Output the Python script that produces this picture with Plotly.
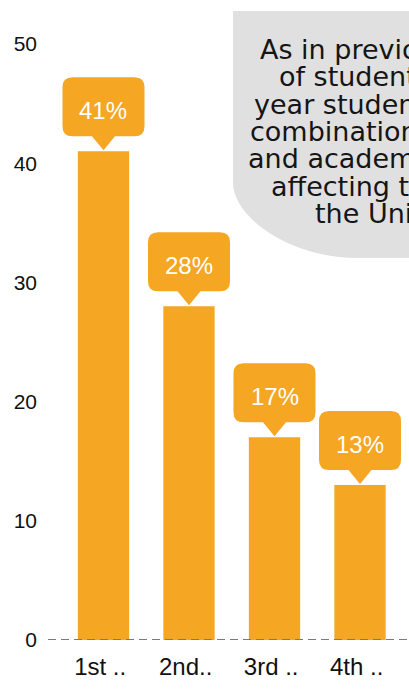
import plotly.graph_objects as go

# ---- data ----
categories = ["1st ..", "2nd..", "3rd ..", "4th .."]
values = [41, 28, 17, 13]
y_ticks = [0, 10, 20, 30, 40, 50]
note_lines = [
    "As in previous years, the majority",
    "of students who left were first",
    "year students, citing a",
    "combination of personal, financial",
    "and academic reasons as",
    "affecting their studies at",
    "the University.",
]

# ---- style ----
ORANGE = "#F5A623"
GREY = "#E0E0E0"
W, H = 409, 689
ML, MR, MT, MB = 48, 0, 44, 49
PW = W - ML - MR
PH = H - MT - MB


def px_x(px):
    return (px - ML) / PW


def px_y(py):
    return (H - MB - py) / PH


fig = go.Figure()
fig.add_trace(go.Bar(
    x=list(range(len(categories))), y=values,
    marker=dict(color=ORANGE, line=dict(width=0)),
    width=0.6, hoverinfo="skip",
))

shapes = []
annotations = []

# callout boxes above bars
r = 10
hw, yb, yt, th = 41, 15, 74, 11.5
callout = (
    f"M {-hw + r},{yt} L {hw - r},{yt} Q {hw},{yt} {hw},{yt - r} "
    f"L {hw},{yb + r} Q {hw},{yb} {hw - r},{yb} L {th},{yb} L 0,1 L {-th},{yb} "
    f"L {-hw + r},{yb} Q {-hw},{yb} {-hw},{yb + r} L {-hw},{yt - r} "
    f"Q {-hw},{yt} {-hw + r},{yt} Z"
)
for i, v in enumerate(values):
    shapes.append(dict(
        type="path", xref="x", yref="y", xsizemode="pixel", ysizemode="pixel",
        xanchor=i, yanchor=v, path=callout,
        fillcolor=ORANGE, line=dict(width=0), layer="above",
    ))
    annotations.append(dict(
        x=i, y=v, xref="x", yref="y", text=f"{v}%", showarrow=False,
        yanchor="middle", xanchor="center", yshift=41,
        font=dict(family="Liberation Sans, Arial, sans-serif", size=24, color="white"),
    ))

# dashed baseline
shapes.append(dict(
    type="line", xref="paper", x0=0, x1=1, yref="y", y0=0, y1=0,
    line=dict(color="#7a7a7a", width=2, dash="8px,5px"), layer="above",
))

# grey note box (top right, rounded bottom-left corner)
bx0, by0, bx1, by1 = 233, 11, 430, 258
rx, ry = 125, 75
k = 0.552
note_path = (
    f"M {px_x(bx0)},{px_y(by0)} L {px_x(bx1)},{px_y(by0)} L {px_x(bx1)},{px_y(by1)} "
    f"L {px_x(bx0 + rx)},{px_y(by1)} "
    f"C {px_x(bx0 + rx - k * rx)},{px_y(by1)} {px_x(bx0)},{px_y(by1 - k * ry)} "
    f"{px_x(bx0)},{px_y(by1 - ry)} Z"
)
shapes.append(dict(
    type="path", xref="paper", yref="paper", path=note_path,
    fillcolor=GREY, line=dict(width=0), layer="below",
))

line_starts = [259, 278, 252.5, 249, 246.5, 270, 314]
for j, (txt, sx) in enumerate(zip(note_lines, line_starts)):
    baseline = 59 + 27.3 * j
    annotations.append(dict(
        x=px_x(sx), y=px_y(baseline - 9.3), xref="paper", yref="paper",
        xanchor="left", yanchor="middle", text=txt, showarrow=False,
        borderpad=0,
        font=dict(family="DejaVu Sans, sans-serif", size=27, color="#151515"),
    ))

fig.update_layout(
    width=W, height=H,
    margin=dict(l=ML, r=MR, t=MT, b=MB, pad=0),
    paper_bgcolor="white", plot_bgcolor="white",
    showlegend=False,
    shapes=shapes, annotations=annotations,
    xaxis=dict(
        range=[-0.649, 3.573], tickmode="array",
        tickvals=list(range(len(categories))),
        ticktext=[c + "\u00a0" for c in categories],
        showgrid=False, zeroline=False, showline=False, ticks="",
        ticklabelstandoff=10,
        tickfont=dict(family="Liberation Sans, Arial, sans-serif", size=24, color="#111111"),
    ),
    yaxis=dict(
        range=[0, 50], tickmode="array", tickvals=y_ticks,
        showgrid=False, zeroline=False, showline=False, ticks="",
        ticklabelstandoff=10,
        tickfont=dict(family="Liberation Sans, Arial, sans-serif", size=21, color="#111111"),
    ),
)

fig.write_html(
    "out.html",
    config={"displayModeBar": False},
    post_script="document.body.style.margin='0';document.body.style.overflow='hidden';",
)
